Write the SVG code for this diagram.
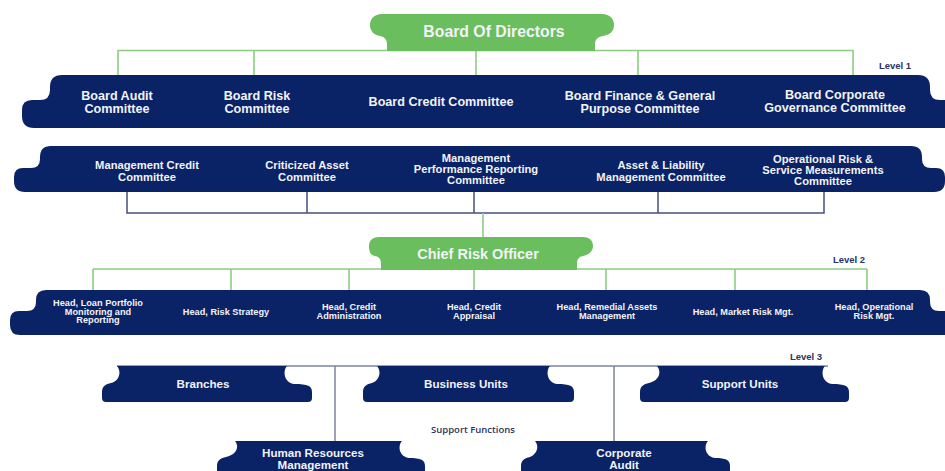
<svg xmlns="http://www.w3.org/2000/svg" width="945" height="471" viewBox="0 0 945 471">
<style>
.navy{fill:#0a2266}
.green{fill:#6bbe5e}
.gl{stroke:#8dcc82;stroke-width:1.6;fill:none}
.nl{stroke:#46507a;stroke-width:1.5;fill:none}
.ll{stroke:#7d849f;stroke-width:1.5;fill:none}
text{font-family:"Liberation Sans",Arial,sans-serif;font-weight:bold;text-anchor:middle;fill:#f2f3f7}
.t13{font-size:12.6px}
.t11{font-size:11.2px}
.t9{font-size:9.2px}
.t12{font-size:11.6px}
.lvl{font-size:9.5px;fill:#2a3462}
.sf{font-size:9.5px;fill:#2a3462;font-family:"Open Sans","Liberation Sans",sans-serif;font-weight:600}
</style>
<g id="connectors">
<path class="gl" d="M118,50.5 H853 M118,50 V75 M254,50 V75 M476,50 V75 M638,50 V75 M853,50 V75"/>
<path class="nl" d="M127,190 V213 H824 V190 M307,190 V213 M474,190 V213 M658,190 V213"/>
<path class="gl" d="M483,213 V237"/>
<path class="gl" d="M93,269 H867 M93,269 V290 M231,269 V290 M349,269 V290 M474,269 V290 M606,269 V290 M735,269 V290 M867,269 V290"/>
<path class="ll" d="M117,366 H828 M335,366 V441 M614,366 V441"/>
</g>
<g id="board-of-directors">
<path class="green" d="M382,14 H602 C610,14 614,19 614,25 C614,32 609,35 603,36 C597,37 595,40 595,44 V51 H387 V44 C387,40 385,37 380,36 C374,35 370,31 370,25 C370,19 374,14 382,14 Z"/>
<text x="494" y="37" style="font-size:15.8px">Board Of Directors</text>
</g>
<text class="lvl" x="895" y="69">Level 1</text>
<g id="board-committees">
<path class="navy" d="M62,75 H918 Q930,75 930,87 V90 Q930,100 940,100 H958 Q970,100 970,110 V116 Q970,128 958,128 H34 Q22,128 22,116 V110 Q22,100 32,100 H40 Q50,100 50,90 V87 Q50,75 62,75 Z"/>
<g id="board-audit"><text class="t13" x="117" y="99.5">Board Audit</text><text class="t13" x="117" y="113">Committee</text></g>
<g id="board-risk"><text class="t13" x="257" y="99.5">Board Risk</text><text class="t13" x="257" y="113">Committee</text></g>
<g id="board-credit"><text class="t13" x="441" y="106">Board Credit Committee</text></g>
<g id="board-finance"><text class="t13" x="640" y="99.5">Board Finance &amp; General</text><text class="t13" x="640" y="113">Purpose Committee</text></g>
<g id="board-governance"><text class="t13" x="835" y="98.5">Board Corporate</text><text class="t13" x="835" y="112">Governance Committee</text></g>
</g>
<g id="management-committees">
<path class="navy" d="M51,146 H911 Q922,146 922,157 V159 Q922,168 931,168 H936 Q945,168 945,177 V181 Q945,192 934,192 H25 Q14,192 14,181 V177 Q14,168 23,168 H31 Q40,168 40,159 V157 Q40,146 51,146 Z"/>
<g id="mgmt-credit"><text class="t11" x="147" y="169">Management Credit</text><text class="t11" x="147" y="181">Committee</text></g>
<g id="criticized-asset"><text class="t11" x="307" y="169">Criticized Asset</text><text class="t11" x="307" y="181">Committee</text></g>
<g id="mgmt-performance"><text class="t11" x="476" y="162">Management</text><text class="t11" x="476" y="173">Performance Reporting</text><text class="t11" x="476" y="184">Committee</text></g>
<g id="alm"><text class="t11" x="661" y="169">Asset &amp; Liability</text><text class="t11" x="661" y="181">Management Committee</text></g>
<g id="op-risk-committee"><text class="t11" x="823" y="163">Operational Risk &amp;</text><text class="t11" x="823" y="174">Service Measurements</text><text class="t11" x="823" y="185">Committee</text></g>
</g>
<g id="chief-risk-officer">
<path class="green" d="M379,237 H583 C590,237 593,241 593,246 C593,252 588,255 583,256 C578,257 577,260 577,264 V270 H381 V264 C381,260 380,257 375,256 C370,255 369,251 369,246 C369,241 372,237 379,237 Z"/>
<text x="478" y="259" style="font-size:14.5px">Chief Risk Officer</text>
</g>
<text class="lvl" x="849" y="263">Level 2</text>
<g id="heads">
<path class="navy" d="M46,290 H920 Q930,290 930,300 V302 Q930,311 939,311 H961 Q970,311 970,320 V325 Q970,335 960,335 H20 Q10,335 10,325 V320 Q10,311 19,311 H27 Q36,311 36,302 V300 Q36,290 46,290 Z"/>
<g id="head-loan"><text class="t9" x="98" y="306">Head, Loan Portfolio</text><text class="t9" x="98" y="314.5">Monitoring and</text><text class="t9" x="98" y="323">Reporting</text></g>
<g id="head-strategy"><text class="t9" x="226" y="315">Head, Risk Strategy</text></g>
<g id="head-credit-admin"><text class="t9" x="349" y="310">Head, Credit</text><text class="t9" x="349" y="318.5">Administration</text></g>
<g id="head-credit-appraisal"><text class="t9" x="474" y="310">Head, Credit</text><text class="t9" x="474" y="318.5">Appraisal</text></g>
<g id="head-remedial"><text class="t9" x="607" y="310">Head, Remedial Assets</text><text class="t9" x="607" y="318.5">Management</text></g>
<g id="head-market"><text class="t9" x="743" y="315">Head, Market Risk Mgt.</text></g>
<g id="head-operational"><text class="t9" x="874" y="310">Head, Operational</text><text class="t9" x="874" y="318.5">Risk Mgt.</text></g>
</g>
<text class="lvl" x="806" y="360">Level 3</text>
<g id="branches">
<path class="navy" d="M117,366 H287 C283,370 283,382 294,384 C308,384 312,386 312,392 V398 Q312,402 308,402 H106 Q102,402 102,398 V392 C102,386 106,384 111,383 C119,381 122,372 117,366 Z"/>
<text class="t12" x="203" y="388">Branches</text>
</g>
<g id="business-units">
<path class="navy" d="M377,366 H550 C546,370 546,382 557,384 C570,384 574,386 574,392 V398 Q574,402 570,402 H367 Q363,402 363,398 V392 C363,386 367,384 372,383 C379,381 382,372 377,366 Z"/>
<text class="t12" x="466" y="388">Business Units</text>
</g>
<g id="support-units">
<path class="navy" d="M657,366 H825 C821,370 821,382 832,384 C845,384 849,386 849,392 V398 Q849,402 845,402 H644 Q640,402 640,398 V392 C640,386 644,384 649,383 C659,381 662,372 657,366 Z"/>
<text class="t12" x="740" y="388">Support Units</text>
</g>
<text class="sf" x="473" y="433">Support Functions</text>
<g id="human-resources">
<path class="navy" d="M235,441 H402 C398,445 398,456 409,458 C421,458 425,460 425,466 V490 H217 V466 C217,460 221,458 226,457 C236,455 240,447 235,441 Z"/>
<text class="t12" x="313" y="457">Human Resources</text>
<text class="t12" x="313" y="469">Management</text>
</g>
<g id="corporate-audit">
<path class="navy" d="M535,441 H708 C704,445 704,456 715,458 C726,458 730,460 730,466 V490 H521 V466 C521,460 525,458 530,457 C536,455 540,447 535,441 Z"/>
<text class="t12" x="624" y="457">Corporate</text>
<text class="t12" x="624" y="469">Audit</text>
</g>
</svg>
